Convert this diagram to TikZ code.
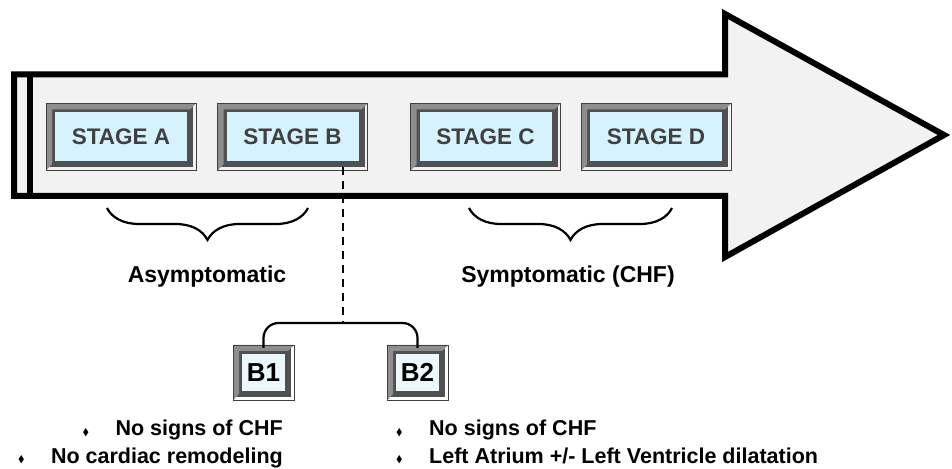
\documentclass[tikz,border=0pt]{standalone}
\usepackage{fontspec}
\setmainfont{Liberation Sans}
\usepackage{amssymb}
\usetikzlibrary{decorations.pathreplacing}
\definecolor{arrowgray}{HTML}{F2F2F2}
\definecolor{stagecyan}{HTML}{D6F2FC}
\definecolor{subcyan}{HTML}{ECF7FB}
\definecolor{bevdark}{HTML}{505050}
\definecolor{bevlight}{HTML}{8E8E8E}
\definecolor{stagetext}{HTML}{404040}
\tikzset{stagebox/.style={rectangle, fill=stagecyan, draw=bevdark, line width=6pt, minimum width=138pt, minimum height=55pt, inner sep=0pt, text=stagetext, font=\fontsize{22.5}{25}\selectfont\bfseries},
  subbox/.style={stagebox, fill=subcyan, minimum width=49pt, minimum height=43pt, text=black, font=\fontsize{26}{29}\selectfont\bfseries},
  groupbrace/.style={decorate, decoration={brace, mirror, amplitude=32pt}, line width=2.2pt},
  grouplabel/.style={font=\fontsize{23}{26}\selectfont\bfseries, inner sep=0pt},
  itemtext/.style={font=\fontsize{21.5}{24}\selectfont\bfseries, inner sep=0pt}}
\newcommand{\bul}{\makebox[33pt][l]{\scalebox{0.45}{$\blacklozenge$}}}

\begin{document}
\begin{tikzpicture}[x=1pt,y=1pt]
   \useasboundingbox (0,0) rectangle (952,468);
   % big arrow
   \draw[fill=arrowgray, line width=6pt] (14,393.5) -- (725,393.5) -- (725,454) -- (944,333) -- (725,211) -- (725,272) -- (14,272) -- cycle;
   \draw[line width=6pt] (30,393.5) -- (30,272);
   % stages
   \node[stagebox] (sa) at (121,331) {STAGE A};
   \node[stagebox] (sb) at (292.5,331) {STAGE B};
   \node[stagebox] (sc) at (485.5,331) {STAGE C};
   \node[stagebox] (sd) at (656,331) {STAGE D};
   \node[subbox] (b1) at (263.5,95.5) {B1};
   \node[subbox] (b2) at (417.5,95.5) {B2};
   \foreach \n in {sa,sb,sc,sd,b1,b2}{
     \fill[bevlight] ([shift={(-3,-3)}]\n.south west) -- ([shift={(-3,3)}]\n.north west) -- ([shift={(3,3)}]\n.north east)
       -- ([shift={(-3,-3)}]\n.north east) -- ([shift={(3,-3)}]\n.north west) -- ([shift={(3,3)}]\n.south west) -- cycle;
     \draw[black!75, line width=0.8pt] ([shift={(-3,-3)}]\n.south west) rectangle ([shift={(3,3)}]\n.north east);
   }
   % groups
   \draw[groupbrace] (107,260) -- (308,260);
   \draw[groupbrace] (469,260) -- (672,260);
   \node[grouplabel, anchor=base] (asym) at (207,185) {Asymptomatic};
   \node[grouplabel, anchor=base] (sym) at (568,185) {Symptomatic (CHF)};
   % split of stage B
   \coordinate (split) at (343,145);
   \draw[line width=2.4pt, dash pattern=on 8pt off 6pt] (sb.south -| split) -- (split);
   \draw[line width=2.2pt, rounded corners=15pt] (b1.north) |- (split) -| (b2.north);
   % items
   \node[itemtext, anchor=base east] (b1a) at (283,32) {\bul No signs of CHF};
   \node[itemtext, anchor=base east] (b1b) at (283,5) {\bul No cardiac remodeling};
   \node[itemtext, anchor=base west] (b2a) at (396,32) {\bul No signs of CHF};
   \node[itemtext, anchor=base west] (b2b) at (396,5) {\bul Left Atrium +/- Left Ventricle dilatation};
\end{tikzpicture}
\end{document}
